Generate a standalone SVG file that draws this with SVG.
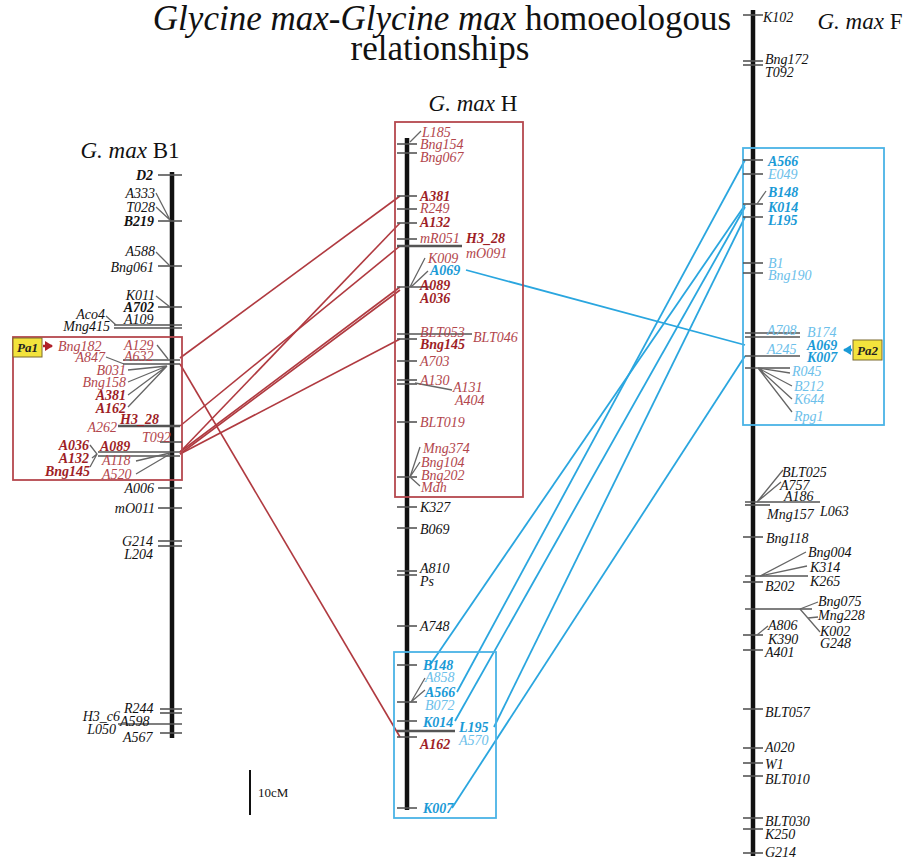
<svg xmlns="http://www.w3.org/2000/svg" width="908" height="862" viewBox="0 0 908 862">
<style>
text{font-family:"Liberation Serif","Times New Roman",serif;font-style:italic;font-size:14px}
.k{fill:#111}
.r{fill:#b2464c}
.rb{fill:#9e1e26;font-weight:bold}
.b{fill:#1a9ad6;font-weight:bold}
.lb{fill:#6cc0ea}
.kb{fill:#111;font-weight:bold}
.e{text-anchor:end}
.bar{stroke:#111;stroke-width:4.5}
.t{stroke:#555;stroke-width:1.6}
.tl{stroke:#666;stroke-width:1.3;fill:none}
.rl{stroke:#b03a40;stroke-width:1.6;fill:none}
.bl{stroke:#2aa6df;stroke-width:1.8;fill:none}
.title{font-style:normal;font-size:23px;fill:#111}
</style>
<defs>
<marker id="ra" markerWidth="9" markerHeight="10" refX="7" refY="5" orient="auto" markerUnits="userSpaceOnUse"><path d="M0,0 L8,5 L0,10 z" fill="#b0202a"/></marker>
<marker id="ba" markerWidth="9" markerHeight="10" refX="7" refY="5" orient="auto" markerUnits="userSpaceOnUse"><path d="M0,0 L8,5 L0,10 z" fill="#1a9ad6"/></marker>
</defs>

<g id="title">
<text x="442" y="30" text-anchor="middle" style="font-size:35px;font-style:normal;fill:#111"><tspan font-style="italic">Glycine max-Glycine max</tspan> homoeologous</text>
<text x="440" y="60" text-anchor="middle" style="font-size:35px;font-style:normal;fill:#111">relationships</text>
</g>

<g id="connectors">
<line class="rl" x1="180" y1="358" x2="400" y2="196"/>
<line class="rl" x1="180" y1="364" x2="400" y2="737"/>
<line class="rl" x1="180" y1="426" x2="400" y2="246"/>
<line class="rl" x1="180" y1="452" x2="400" y2="223"/>
<line class="rl" x1="180" y1="452" x2="400" y2="287"/>
<line class="rl" x1="180" y1="454" x2="400" y2="290"/>
<line class="rl" x1="180" y1="454" x2="400" y2="339"/>
<line class="bl" x1="466" y1="270" x2="745" y2="345"/>
<line class="bl" x1="430" y1="665" x2="745" y2="205"/>
<line class="bl" x1="457" y1="692" x2="745" y2="160"/>
<line class="bl" x1="455" y1="721" x2="745" y2="207"/>
<line class="bl" x1="494" y1="727" x2="745" y2="217"/>
<line class="bl" x1="452" y1="808" x2="745" y2="356"/>
</g>

<g id="chrB1">
<text class="title" x="130" y="158" text-anchor="middle"><tspan font-style="italic">G. max</tspan> B1</text>
<line class="bar" x1="172" y1="172" x2="172" y2="738"/>
<rect x="13" y="337" width="169" height="143" fill="none" stroke="#b5484e" stroke-width="1.8"/>
<g class="t">
<line x1="158" y1="175" x2="182" y2="175"/>
<line x1="158" y1="221" x2="182" y2="221"/>
<line x1="158" y1="266" x2="182" y2="266"/>
<line x1="158" y1="307" x2="182" y2="307"/>
<line x1="114" y1="325" x2="182" y2="325"/>
<line x1="114" y1="328" x2="182" y2="328"/>
<line x1="123" y1="360" x2="180" y2="360"/>
<line x1="123" y1="364" x2="180" y2="364"/>
<line x1="118" y1="426" x2="180" y2="426" stroke-width="2.5"/>
<line x1="160" y1="442" x2="182" y2="442"/>
<line x1="98" y1="452" x2="180" y2="452"/>
<line x1="98" y1="456" x2="180" y2="456"/>
<line x1="158" y1="488" x2="182" y2="488"/>
<line x1="158" y1="508" x2="182" y2="508"/>
<line x1="158" y1="541" x2="182" y2="541"/>
<line x1="158" y1="546" x2="182" y2="546"/>
<line x1="160" y1="709" x2="182" y2="709"/>
<line x1="160" y1="713" x2="182" y2="713"/>
<line x1="118" y1="724" x2="182" y2="724"/>
<line x1="160" y1="733" x2="182" y2="733"/>
</g>
<g class="tl">
<path d="M156,193 L170,220 M156,207 L170,220"/>
<path d="M156,252 L170,266"/>
<path d="M156,296 L170,307"/>
<path d="M106,316 L116,325"/>
<path d="M157,345 L168,359"/>
<path d="M106,357 L124,364"/>
<path d="M128,370 L167,366 M128,382 L167,366 M128,395 L167,366 M128,407 L167,366"/>
<path d="M90,445 L97,454 L90,467 M92,458 L97,454"/>
<path d="M136,461 L170,453 M136,474 L170,454"/>
</g>
<text class="kb e" x="153" y="180">D2</text>
<text class="k e" x="155" y="198">A333</text>
<text class="k e" x="155" y="212">T028</text>
<text class="kb e" x="154" y="226">B219</text>
<text class="k e" x="155" y="256">A588</text>
<text class="k e" x="154" y="272">Bng061</text>
<text class="k e" x="155" y="300">K011</text>
<text class="kb e" x="154" y="312">A702</text>
<text class="k e" x="105" y="319">Aco4</text>
<text class="k e" x="110" y="331">Mng415</text>
<text class="k" x="124" y="324">A109</text>
<text class="r" x="58" y="351">Bng182</text>
<text class="r" x="124" y="350">A129</text>
<text class="r e" x="105" y="362">A847</text>
<text class="r" x="124" y="361">A632</text>
<text class="r e" x="126" y="375">B031</text>
<text class="r e" x="126" y="387">Bng158</text>
<text class="rb e" x="126" y="400">A381</text>
<text class="rb e" x="126" y="413">A162</text>
<text class="rb" x="120" y="424">H3_28</text>
<text class="r e" x="117" y="432">A262</text>
<text class="r" x="142" y="442">T092</text>
<text class="rb e" x="89" y="450">A036</text>
<text class="rb" x="100" y="451">A089</text>
<text class="rb e" x="89" y="463">A132</text>
<text class="rb e" x="90" y="476">Bng145</text>
<text class="r" x="102" y="465">A118</text>
<text class="r" x="102" y="479">A520</text>
<text class="k e" x="154" y="493">A006</text>
<text class="k e" x="155" y="513">mO011</text>
<text class="k e" x="153" y="546">G214</text>
<text class="k e" x="153" y="559">L204</text>
<text class="k" x="124" y="713">R244</text>
<text class="k e" x="120" y="721">H3_c6</text>
<text class="k" x="120" y="726">A598</text>
<text class="k e" x="116" y="734">L050</text>
<text class="k" x="123" y="742">A567</text>
</g>

<g id="pa1">
<rect x="13" y="338" width="29" height="19" fill="#f3e33c" stroke="#7a6a30" stroke-width="1"/>
<text x="27.5" y="352" text-anchor="middle" style="font-weight:bold;font-size:13px;fill:#222">Pa1</text>
<line x1="43" y1="346" x2="52" y2="346" stroke="#b0202a" stroke-width="2.5" marker-end="url(#ra)"/>
</g>

<g id="chrH">
<text class="title" x="473" y="111" text-anchor="middle"><tspan font-style="italic">G. max</tspan> H</text>
<line class="bar" x1="407" y1="138" x2="407" y2="810"/>
<rect x="395" y="122" width="128" height="375" fill="none" stroke="#b5484e" stroke-width="1.8"/>
<rect x="394" y="652" width="102" height="166" fill="none" stroke="#4ab3e6" stroke-width="1.8"/>
<g class="t">
<line x1="397" y1="144" x2="417" y2="144"/>
<line x1="397" y1="153" x2="417" y2="153"/>
<line x1="397" y1="196" x2="417" y2="196"/>
<line x1="397" y1="209" x2="417" y2="209"/>
<line x1="397" y1="223" x2="417" y2="223"/>
<line x1="397" y1="239" x2="417" y2="239"/>
<line x1="397" y1="246" x2="462" y2="246" stroke-width="2.5"/>
<line x1="397" y1="287" x2="430" y2="287"/>
<line x1="397" y1="334" x2="472" y2="334"/>
<line x1="397" y1="339" x2="417" y2="339"/>
<line x1="397" y1="361" x2="417" y2="361"/>
<line x1="397" y1="380" x2="417" y2="380"/>
<line x1="397" y1="384" x2="417" y2="384"/>
<line x1="397" y1="422" x2="417" y2="422"/>
<line x1="397" y1="477" x2="417" y2="477"/>
<line x1="397" y1="507" x2="417" y2="507"/>
<line x1="397" y1="528" x2="417" y2="528"/>
<line x1="397" y1="571" x2="417" y2="571"/>
<line x1="397" y1="575" x2="417" y2="575"/>
<line x1="397" y1="626" x2="417" y2="626"/>
<line x1="397" y1="665" x2="417" y2="665"/>
<line x1="397" y1="702" x2="417" y2="702"/>
<line x1="397" y1="721" x2="417" y2="721"/>
<line x1="397" y1="731" x2="455" y2="731" stroke-width="2.5"/>
<line x1="397" y1="737" x2="417" y2="737"/>
<line x1="397" y1="808" x2="417" y2="808"/>
</g>
<g class="tl">
<path d="M421,131 L410,142"/>
<path d="M425,258 L410,287 M428,271 L411,287"/>
<path d="M415,383 L452,390"/>
<path d="M420,447 L410,477 M420,462 L410,477 M410,477 L420,486"/>
<path d="M425,678 L411,702 M425,690 L411,702"/>
</g>
<text class="r" x="422" y="137">L185</text>
<text class="r" x="420" y="149">Bng154</text>
<text class="r" x="420" y="162">Bng067</text>
<text class="rb" x="420" y="201">A381</text>
<text class="r" x="420" y="213">R249</text>
<text class="rb" x="420" y="227">A132</text>
<text class="r" x="420" y="243">mR051</text>
<text class="rb" x="466" y="243">H3_28</text>
<text class="r" x="466" y="258">mO091</text>
<text class="r" x="428" y="263">K009</text>
<text class="b" x="430" y="275">A069</text>
<text class="rb" x="420" y="290">A089</text>
<text class="rb" x="420" y="303">A036</text>
<text class="r" x="420" y="337">BLT053</text>
<text class="r" x="473" y="342">BLT046</text>
<text class="rb" x="420" y="349">Bng145</text>
<text class="r" x="420" y="366">A703</text>
<text class="r" x="420" y="385">A130</text>
<text class="r" x="453" y="392">A131</text>
<text class="r" x="455" y="405">A404</text>
<text class="r" x="420" y="427">BLT019</text>
<text class="r" x="423" y="453">Mng374</text>
<text class="r" x="421" y="467">Bng104</text>
<text class="r" x="421" y="480">Bng202</text>
<text class="r" x="421" y="492">Mdh</text>
<text class="k" x="420" y="512">K327</text>
<text class="k" x="420" y="534">B069</text>
<text class="k" x="420" y="573">A810</text>
<text class="k" x="420" y="586">Ps</text>
<text class="k" x="420" y="631">A748</text>
<text class="b" x="423" y="670">B148</text>
<text class="lb" x="425" y="682">A858</text>
<text class="b" x="425" y="697">A566</text>
<text class="lb" x="425" y="710">B072</text>
<text class="b" x="423" y="727">K014</text>
<text class="b" x="459" y="732">L195</text>
<text class="lb" x="459" y="745">A570</text>
<text class="rb" x="420" y="749">A162</text>
<text class="b" x="423" y="813">K007</text>
</g>

<g id="chrF">
<text class="title" x="860" y="29" text-anchor="middle"><tspan font-style="italic">G. max</tspan> F</text>
<line class="bar" x1="753" y1="10" x2="753" y2="856"/>
<rect x="743" y="148" width="141" height="277" fill="none" stroke="#4ab3e6" stroke-width="1.8"/>
<g class="t">
<line x1="743" y1="15" x2="763" y2="15"/>
<line x1="743" y1="61" x2="763" y2="61"/>
<line x1="743" y1="65" x2="763" y2="65"/>
<line x1="743" y1="160" x2="763" y2="160"/>
<line x1="743" y1="174" x2="763" y2="174"/>
<line x1="743" y1="204" x2="763" y2="204"/>
<line x1="743" y1="217" x2="763" y2="217"/>
<line x1="743" y1="263" x2="763" y2="263"/>
<line x1="743" y1="273" x2="763" y2="273"/>
<line x1="745" y1="333" x2="800" y2="333"/>
<line x1="745" y1="337" x2="800" y2="337"/>
<line x1="745" y1="356" x2="800" y2="356"/>
<line x1="745" y1="368" x2="790" y2="368"/>
<line x1="745" y1="502" x2="820" y2="502"/>
<line x1="745" y1="505" x2="770" y2="505"/>
<line x1="743" y1="537" x2="763" y2="537"/>
<line x1="745" y1="576" x2="808" y2="576"/>
<line x1="743" y1="582" x2="763" y2="582"/>
<line x1="745" y1="609" x2="812" y2="609"/>
<line x1="743" y1="635" x2="763" y2="635"/>
<line x1="743" y1="650" x2="763" y2="650"/>
<line x1="743" y1="709" x2="763" y2="709"/>
<line x1="743" y1="748" x2="763" y2="748"/>
<line x1="743" y1="763" x2="763" y2="763"/>
<line x1="743" y1="776" x2="763" y2="776"/>
<line x1="743" y1="818" x2="763" y2="818"/>
<line x1="743" y1="829" x2="763" y2="829"/>
<line x1="743" y1="853" x2="763" y2="853"/>
</g>
<g class="tl">
<path d="M766,191 L757,204"/>
<path d="M758,368 L790,373 M758,368 L792,386 M758,368 L792,399 M758,368 L792,412"/>
<path d="M783,470 L757,502 M781,482 L757,502"/>
<path d="M760,576 L806,552 M760,576 L807,566"/>
<path d="M800,609 L818,602 M800,609 L820,632 M808,618 L818,617"/>
<path d="M768,626 L757,635"/>
</g>
<text class="k" x="763" y="22">K102</text>
<text class="k" x="765" y="64">Bng172</text>
<text class="k" x="765" y="77">T092</text>
<text class="b" x="768" y="166">A566</text>
<text class="lb" x="768" y="179">E049</text>
<text class="b" x="768" y="197">B148</text>
<text class="b" x="768" y="212">K014</text>
<text class="b" x="768" y="225">L195</text>
<text class="lb" x="768" y="268">B1</text>
<text class="lb" x="768" y="280">Bng190</text>
<text class="lb" x="767" y="335">A708</text>
<text class="lb" x="807" y="337">B174</text>
<text class="b" x="807" y="350">A069</text>
<text class="lb" x="767" y="354">A245</text>
<text class="b" x="807" y="362">K007</text>
<text class="lb" x="792" y="376">R045</text>
<text class="lb" x="794" y="391">B212</text>
<text class="lb" x="794" y="404">K644</text>
<text class="lb" x="794" y="421">Rpg1</text>
<text class="k" x="782" y="477">BLT025</text>
<text class="k" x="780" y="490">A757</text>
<text class="k" x="784" y="501">A186</text>
<text class="k" x="820" y="516">L063</text>
<text class="k" x="767" y="519">Mng157</text>
<text class="k" x="766" y="543">Bng118</text>
<text class="k" x="808" y="557">Bng004</text>
<text class="k" x="810" y="572">K314</text>
<text class="k" x="810" y="586">K265</text>
<text class="k" x="765" y="591">B202</text>
<text class="k" x="818" y="606">Bng075</text>
<text class="k" x="818" y="620">Mng228</text>
<text class="k" x="820" y="636">K002</text>
<text class="k" x="820" y="648">G248</text>
<text class="k" x="768" y="630">A806</text>
<text class="k" x="768" y="644">K390</text>
<text class="k" x="765" y="657">A401</text>
<text class="k" x="765" y="717">BLT057</text>
<text class="k" x="765" y="752">A020</text>
<text class="k" x="765" y="769">W1</text>
<text class="k" x="765" y="784">BLT010</text>
<text class="k" x="765" y="826">BLT030</text>
<text class="k" x="765" y="839">K250</text>
<text class="k" x="765" y="857">G214</text>
</g>

<g id="pa2">
<rect x="853" y="340" width="29" height="20" fill="#f3e33c" stroke="#7a6a30" stroke-width="1"/>
<text x="867.5" y="355" text-anchor="middle" style="font-weight:bold;font-size:13px;fill:#222">Pa2</text>
<line x1="852" y1="350" x2="844" y2="350" stroke="#1a9ad6" stroke-width="2.5" marker-end="url(#ba)"/>
</g>

<g id="scale">
<line x1="250" y1="770" x2="250" y2="815" stroke="#111" stroke-width="2"/>
<text x="258" y="797" style="font-style:normal;font-size:13px;fill:#111">10cM</text>
</g>
</svg>
